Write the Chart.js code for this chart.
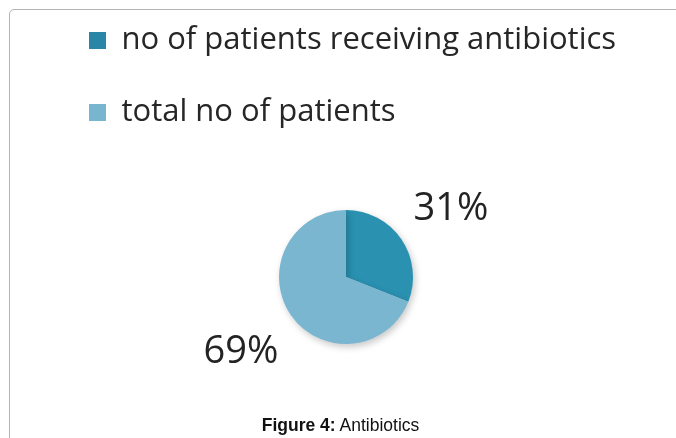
<!DOCTYPE html>
<html>
<head>
<meta charset="utf-8">
<script src="https://cdn.jsdelivr.net/npm/chart.js@4.4.0/dist/chart.umd.min.js"></script>
<style>
  html, body { margin: 0; padding: 0; background: #fff; width: 676px; height: 438px; overflow: hidden; position: relative; }
  #frame { position: absolute; left: 9px; top: 9px; width: 800px; height: 600px; border: 1px solid #b4b4b4; border-radius: 5px; box-sizing: border-box; }
  #wrap { position: absolute; left: 0; top: -16px; width: 676px; height: 454px; }
  #caption { position: absolute; left: 0; width: 681px; top: 415px; text-align: center; font-family: "Liberation Sans", Arial, sans-serif; font-size: 17.5px; line-height: 20px; color: #111; }
</style>
</head>
<body>
<div id="frame"></div>
<div id="wrap"><canvas id="c"></canvas></div>
<div id="caption"><b>Figure 4:</b> Antibiotics</div>
<script>
const categories = ["no of patients receiving antibiotics", "total no of patients"];
const values = [31, 69];
const sliceColors = ["#2a91b1", "#7ab6d0"];
const legendColors = ["#2a86a6", "#78b6cf"];

const shadowPlugin = {
  id: 'pieShadow',
  beforeDatasetsDraw(chart) {
    const ctx = chart.ctx;
    ctx.save();
    ctx.shadowColor = 'rgba(0,0,0,0.22)';
    ctx.shadowBlur = 7;
    ctx.shadowOffsetX = 2;
    ctx.shadowOffsetY = 3;
  },
  afterDatasetsDraw(chart) {
    chart.ctx.restore();
  }
};

const labelPlugin = {
  id: 'outLabels',
  afterDraw(chart) {
    const ctx = chart.ctx;
    const meta = chart.getDatasetMeta(0);
    const total = values.reduce((a, b) => a + b, 0);
    ctx.save();
    ctx.font = '38px "Open Sans", sans-serif';
    ctx.fillStyle = '#232323';
    ctx.textAlign = 'center';
    ctx.textBaseline = 'middle';
    meta.data.forEach((arc, i) => {
      const p = arc.getProps(['x', 'y', 'startAngle', 'endAngle', 'outerRadius'], true);
      const mid = (p.startAngle + p.endAngle) / 2;
      const d = p.outerRadius + 60;
      const x = p.x + Math.cos(mid) * d;
      const y = p.y + Math.sin(mid) * d + 4;
      ctx.fillText(Math.round(values[i] / total * 100) + '%', x, y);
    });
    ctx.restore();
  }
};

new Chart(document.getElementById('c'), {
  type: 'pie',
  data: {
    labels: categories,
    datasets: [{
      data: values,
      backgroundColor: sliceColors,
      borderWidth: 0,
      radius: 67
    }]
  },
  options: {
    responsive: true,
    maintainAspectRatio: false,
    animation: false,
    layout: { padding: { left: 48, right: 32, top: 0, bottom: 22 } },
    plugins: {
      tooltip: { enabled: false },
      legend: {
        position: 'top',
        align: 'start',
        labels: {
          font: { family: '"Open Sans", sans-serif', size: 31 },
          color: '#262626',
          padding: 41,
          boxWidth: 17,
          boxHeight: 17,
          generateLabels(chart) {
            return categories.map((t, i) => ({
              text: t,
              fillStyle: legendColors[i],
              strokeStyle: legendColors[i],
              lineWidth: 0,
              hidden: false,
              index: i,
              fontColor: '#262626'
            }));
          }
        }
      }
    }
  },
  plugins: [shadowPlugin, labelPlugin]
});
</script>
</body>
</html>
